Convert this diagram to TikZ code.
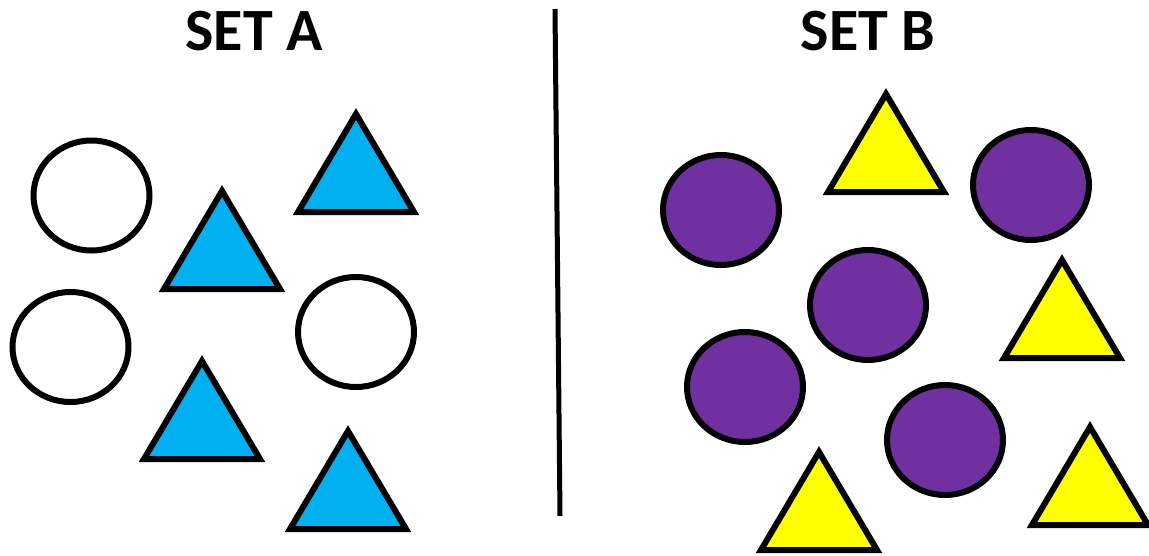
\documentclass[tikz,border=0pt]{standalone}
\usepackage{fontspec}
\setmainfont{Carlito}
\definecolor{tblue}{HTML}{00B0F0}
\definecolor{tpurple}{HTML}{7030A0}
\definecolor{tyellow}{HTML}{FFFF00}
\begin{document}
\begin{tikzpicture}[x=1pt,y=-1pt,
  outlined/.style={draw=black,line width=6pt,line join=miter},
  title/.style={font=\fontsize{60}{60}\selectfont\bfseries,anchor=base,inner sep=0pt},
  tri/.pic={\path[pic actions] (0,0) -- (-58,98) -- (58,98) -- cycle;}]
\useasboundingbox (0,0) rectangle (1149,555);
\node[title] (ta) at (254,50) {SET A};
\node[title] (tb) at (868,50) {SET B};
\coordinate (d1) at (555,9);
\coordinate (d2) at (560,516);
\draw[line width=5pt] (d1) -- (d2);
% Set A circles
\draw[outlined,fill=white] (91.5,195.5) ellipse [x radius=58,y radius=55];
\draw[outlined,fill=white] (70.5,347) ellipse [x radius=58,y radius=55];
\draw[outlined,fill=white] (356,332) ellipse [x radius=58,y radius=55];
% Set A triangles
\pic[outlined,fill=tblue] at (356,114) {tri};
\pic[outlined,fill=tblue] at (222,191) {tri};
\pic[outlined,fill=tblue] at (202,361) {tri};
\pic[outlined,fill=tblue] at (348,431) {tri};
% Set B circles
\draw[outlined,fill=tpurple] (721,210) ellipse [x radius=58,y radius=55];
\draw[outlined,fill=tpurple] (1031,185) ellipse [x radius=58,y radius=55];
\draw[outlined,fill=tpurple] (868,305) ellipse [x radius=58,y radius=55];
\draw[outlined,fill=tpurple] (745,387) ellipse [x radius=58,y radius=55];
\draw[outlined,fill=tpurple] (945,440) ellipse [x radius=58,y radius=55];
% Set B triangles
\pic[outlined,fill=tyellow] at (886,94) {tri};
\pic[outlined,fill=tyellow] at (1062,260) {tri};
\pic[outlined,fill=tyellow] at (1090,427) {tri};
\pic[outlined,fill=tyellow] at (819,452) {tri};
\end{tikzpicture}
\end{document}
